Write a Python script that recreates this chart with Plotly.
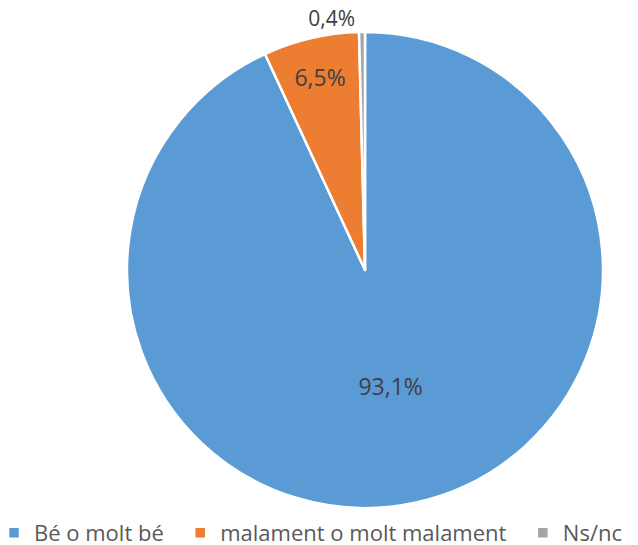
import plotly.graph_objects as go

# Survey answers and their shares (%)
labels = ["Bé o molt bé", "malament o molt malament", "Ns/nc"]
values = [93.1, 6.5, 0.4]
colors = ["#5B9BD5", "#ED7D31", "#A5A5A5"]
positions = ["inside", "inside", "outside"]

texts = [f"{v:.1f}%".replace(".", ",") for v in values]
# a little extra room after each legend entry, like the Excel legend
legend_names = [lab + "\u00a0" * 2 for lab in labels[:-1]] + labels[-1:]

# the page body has an 8px margin, so the figure is drawn 8px smaller
W, H = 630, 537
B = 30  # bottom strip for the legend
PH = H - B

fig = go.Figure(
    go.Pie(
        labels=legend_names,
        values=values,
        text=texts,
        textinfo="text",
        textposition=positions,
        insidetextorientation="horizontal",
        sort=False,
        direction="clockwise",
        rotation=0,
        marker=dict(colors=colors, line=dict(color="white", width=2.5)),
        textfont=dict(color="#404040", size=23),
        outsidetextfont=dict(color="#404040", size=21),
        domain=dict(x=[119 / W, 595 / W], y=[7 / PH, 483 / PH]),
        hoverinfo="label+percent",
    )
)

fig.update_layout(
    width=W,
    height=H,
    margin=dict(t=0, b=B, l=0, r=0, autoexpand=False),
    paper_bgcolor="white",
    font=dict(family="Open Sans, sans-serif", color="#595959"),
    showlegend=True,
    legend=dict(
        orientation="h",
        x=-14 / W,
        xanchor="left",
        y=-(B - 12) / PH,
        yanchor="middle",
        font=dict(size=22, color="#595959"),
        itemwidth=30,
        bgcolor="rgba(0,0,0,0)",
    ),
)

fig.write_html("out.html")
